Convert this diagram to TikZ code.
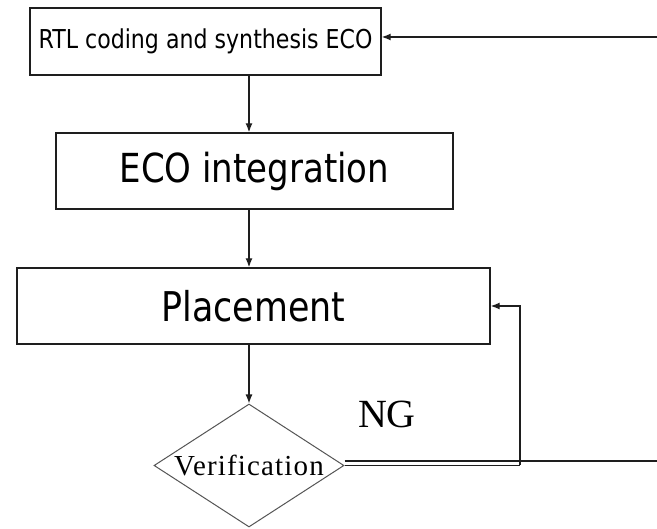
\documentclass[tikz,border=0pt]{standalone}
\usepackage{fontspec}
\usetikzlibrary{shapes.geometric,arrows.meta}
\newfontfamily\boxfont[FakeStretch=0.85]{DejaVu Sans}
\newfontfamily\serifnote{Liberation Serif}
\newfontfamily\serifspaced[LetterSpace=4]{Liberation Serif}
\definecolor{ink}{HTML}{1E1E1E}
\definecolor{dialine}{HTML}{555555}
\tikzset{
  stepbox/.style={draw=ink, line width=1.4pt, fill=white, inner sep=0pt, font=\boxfont},
  decision/.style={diamond, draw=dialine, line width=1pt, fill=white, inner sep=0pt,
                   minimum width=190pt, minimum height=123pt, font=\serifspaced\fontsize{29}{29}\selectfont},
  flow/.style={draw=ink, line width=1.3pt, -{Latex[length=9pt,width=7pt]}},
  wire/.style={draw=ink, line width=1.3pt}
}
\begin{document}
\begin{tikzpicture}[x=1pt,y=-1pt]
  \useasboundingbox[fill=white] (0,0) rectangle (657,529);

  \node[stepbox, minimum width=351pt, minimum height=67pt,
        font=\boxfont\fontsize{26}{26}\selectfont] (rtl) at (205.5,41.5) {RTL coding and synthesis ECO};
  \node[stepbox, minimum width=397pt, minimum height=76pt,
        font=\boxfont\fontsize{40}{40}\selectfont] (eco) at (254.5,171) {ECO integration};
  \node[stepbox, minimum width=473pt, minimum height=76pt,
        font=\boxfont\fontsize{41}{41}\selectfont] (pl) at (253.5,306) {Placement};
  \node[decision] (ver) at (249,465.5) {\makebox[0pt]{Verification}};
  \node[font=\serifnote\fontsize{40}{40}\selectfont, inner sep=0pt] (ng) at (387,414) {NG};

  % loop ends leaving the drawing on the right
  \coordinate (ngout) at (657,461);
  \coordinate (rtlin) at (657,37);
  \coordinate (turn) at (520,465.5);

  \draw[flow] (rtl.south -| 249,0) -- (eco.north -| 249,0);
  \draw[flow] (eco.south -| 249,0) -- (pl.north -| 249,0);
  \draw[flow] (pl.south -| 249,0) -- (ver.north);

  % NG feedback to placement
  \draw[wire] (ver.east) -- (turn);
  \draw[flow] (turn) -- (turn |- pl.east) -- (pl.east);

  % NG path back to RTL
  \draw[wire] ([yshift=4.5pt]ver.east) -- (ngout);
  \draw[flow] (rtlin) -- (rtl.east |- rtlin);
\end{tikzpicture}
\end{document}
